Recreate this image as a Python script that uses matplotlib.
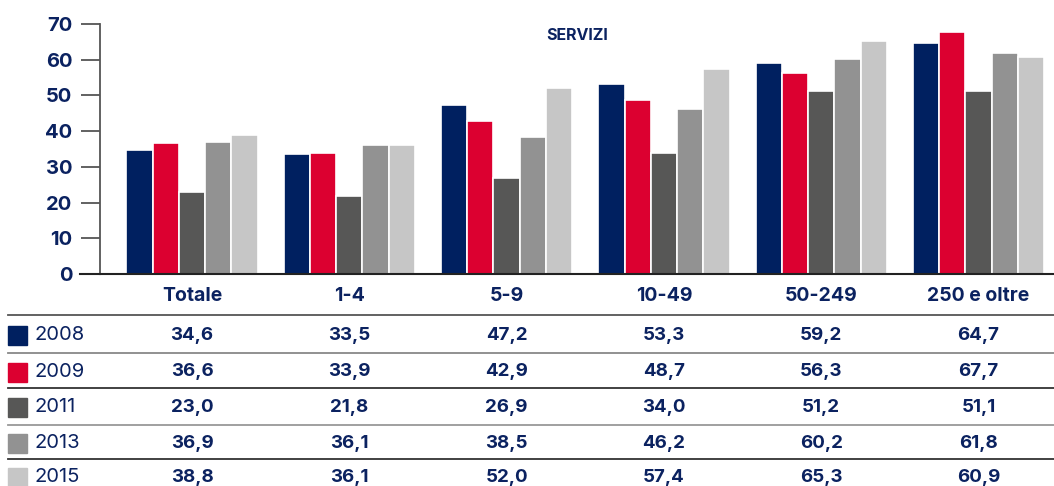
import matplotlib

matplotlib.use("Agg")
import matplotlib.pyplot as plt  # noqa: E402
import numpy as np  # noqa: E402
from matplotlib.patches import Rectangle  # noqa: E402
from matplotlib.transforms import blended_transform_factory  # noqa: E402

NAVY = "#0b2260"

categories = ["Totale", "1-4", "5-9", "10-49", "50-249", "250 e oltre"]
years = ["2008", "2009", "2011", "2013", "2015"]
values = {
    "2008": [34.6, 33.5, 47.2, 53.3, 59.2, 64.7],
    "2009": [36.6, 33.9, 42.9, 48.7, 56.3, 67.7],
    "2011": [23.0, 21.8, 26.9, 34.0, 51.2, 51.1],
    "2013": [36.9, 36.1, 38.5, 46.2, 60.2, 61.8],
    "2015": [38.8, 36.1, 52.0, 57.4, 65.3, 60.9],
}
colors = ["#002060", "#dc0030", "#575756", "#929292", "#c6c6c6"]
title = "SERVIZI"

plt.rcParams["font.family"] = ["Inter", "DejaVu Sans"]

W, H = 1054, 486
fig = plt.figure(figsize=(W / 100, H / 100), dpi=100)
ax = fig.add_axes([100 / W, 1 - 274 / H, (W - 100) / W, 250 / H])

x = np.arange(len(categories))
slot = 0.167
for i, yr in enumerate(years):
    ax.bar(x + (i - 2) * slot, values[yr], width=slot, color=colors[i],
           edgecolor="white", linewidth=1.2, zorder=2)

ax.set_xlim(-0.585, 5.48)
ax.set_ylim(0, 70)
ax.set_yticks(range(0, 71, 10))
ax.set_xticks([])
ax.tick_params(axis="y", length=14, width=1.3, color="#555555", pad=6,
               labelsize=14.5, labelcolor=NAVY)
for lab in ax.get_yticklabels():
    lab.set_fontweight("bold")
for s in ("top", "right"):
    ax.spines[s].set_visible(False)
ax.spines["left"].set_color("#555555")
ax.spines["left"].set_linewidth(1.3)
ax.spines["bottom"].set_color("#222222")
ax.spines["bottom"].set_linewidth(1.5)
ax.plot([-20 / 157.3 - 0.585, -0.585], [0, 0], color="#222222", lw=1.5,
        clip_on=False, transform=ax.transData)
ax.text(0.5, 0.985, title, transform=ax.transAxes, ha="center", va="top",
        fontsize=11.5, fontweight="bold", color=NAVY)

# data table under the chart
tr = blended_transform_factory(ax.transData, fig.transFigure)
header_y = 296
row_y = [335, 372, 407, 443, 477]
line_y = [315, 353, 388, 425, 459]
line_c = ["#555555", "#888888", "#333333", "#999999", "#333333"]

for xi, cat in zip(x, categories):
    fig.text(xi, 1 - header_y / H, cat, transform=tr, ha="center", va="center",
             fontsize=14, fontweight="bold", color=NAVY)

for ly, lc in zip(line_y, line_c):
    fig.add_artist(plt.Line2D([8 / W, 1], [1 - ly / H] * 2, color=lc, lw=1.3))

for i, yr in enumerate(years):
    yy = 1 - row_y[i] / H
    fig.add_artist(Rectangle((8 / W, yy - 10 / H), 19 / W, 19 / H,
                             color=colors[i], transform=fig.transFigure))
    fig.text(35 / W, yy, yr, ha="left", va="center", fontsize=14.5, color=NAVY)
    for xi, v in zip(x, values[yr]):
        fig.text(xi, yy, f"{v:.1f}".replace(".", ","), transform=tr,
                 ha="center", va="center", fontsize=13.5, fontweight="bold",
                 color=NAVY)

fig.savefig("out.png", dpi=100)
